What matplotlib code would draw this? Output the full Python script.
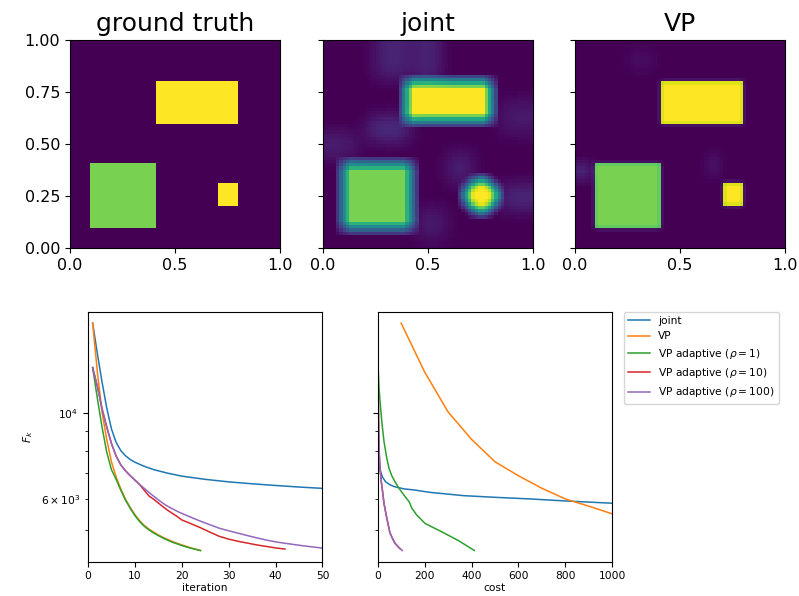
import matplotlib
matplotlib.use("Agg")
import matplotlib.pyplot as plt
import numpy as np

# ---------------------------------------------------------------------------
# image panels: piecewise-constant phantoms (x0, x1, y0, y1, value)
# ---------------------------------------------------------------------------
N_GRID = 64

GT_RECTS = [
    (0.10, 0.40, 0.10, 0.40, 0.80),
    (0.40, 0.80, 0.60, 0.80, 1.00),
    (0.70, 0.80, 0.20, 0.32, 1.00),
]

# joint reconstruction: blurred objects, round small one
JOINT_RECTS = [
    (0.10, 0.42, 0.10, 0.41, 0.80),
    (0.39, 0.80, 0.61, 0.80, 1.00),
]
JOINT_DISCS = [(0.75, 0.25, 0.075, 1.00)]
# faint background artefacts of the joint reconstruction
JOINT_ARTEFACTS = [
    (0.25, 0.42, 0.82, 1.00, 0.10),
    (0.45, 0.55, 0.80, 1.00, 0.12),
    (0.22, 0.40, 0.52, 0.62, 0.14),
    (0.00, 0.15, 0.44, 0.54, 0.09),
    (0.60, 0.70, 0.32, 0.45, 0.10),
    (0.85, 1.00, 0.18, 0.30, 0.12),
    (0.46, 0.58, 0.05, 0.18, 0.08),
    (0.85, 1.00, 0.55, 0.70, 0.07),
]

VP_RECTS = [
    (0.10, 0.40, 0.10, 0.40, 0.80),
    (0.40, 0.80, 0.60, 0.80, 1.00),
    (0.70, 0.80, 0.20, 0.32, 1.00),
]
VP_ARTEFACTS = [
    (0.00, 0.08, 0.33, 0.40, 0.10),
    (0.62, 0.68, 0.34, 0.45, 0.05),
    (0.25, 0.38, 0.84, 0.95, 0.03),
]

# ---------------------------------------------------------------------------
# convergence curves, iteration axis
# ---------------------------------------------------------------------------
IT_JOINT = [1, 2, 3, 4, 5, 6, 7, 8, 9, 10, 12, 14, 17, 20, 25, 30, 35, 40, 45, 50]
F_JOINT = [17000, 14200, 12000, 10300, 9100, 8400, 8000, 7760, 7590, 7470,
           7290, 7150, 7000, 6880, 6750, 6650, 6575, 6510, 6450, 6400]

IT_VP = list(range(1, 25))
F_VP = [17000, 12740, 10060, 8550, 7490, 6850, 6380, 6000, 5720, 5480,
        5290, 5140, 5030, 4940, 4860, 4790, 4730, 4675, 4625, 4580,
        4540, 4500, 4465, 4432]

IT_RHO1 = list(range(1, 25))
F_RHO1 = [13070, 10900, 9195, 7930, 7150, 6750, 6330, 5970, 5690, 5450,
          5260, 5115, 5005, 4915, 4840, 4770, 4710, 4655, 4610, 4565,
          4525, 4490, 4460, 4430]

IT_RHO10 = [1, 2, 3, 4, 5, 6, 7, 8, 9, 10, 11, 12, 13, 14, 15, 16, 17, 18,
            19, 20, 21, 22, 24, 26, 28, 30, 32, 34, 36, 38, 40, 42]
F_RHO10 = [13070, 11700, 10250, 9200, 8350, 7750, 7350, 7100, 6900, 6720,
           6550, 6330, 6120, 6000, 5870, 5740, 5620, 5520, 5420, 5310,
           5250, 5190, 5070, 4940, 4820, 4740, 4680, 4630, 4580, 4540,
           4500, 4470]

IT_RHO100 = [1, 2, 3, 4, 5, 6, 7, 8, 9, 10, 11, 12, 13, 14, 15, 16, 17, 18,
             19, 20, 22, 24, 26, 28, 30, 32, 34, 36, 38, 40, 42, 44, 46, 48, 50]
F_RHO100 = [13070, 11700, 10250, 9200, 8350, 7750, 7350, 7100, 6900, 6720,
            6550, 6400, 6250, 6110, 5980, 5860, 5755, 5670, 5590, 5520,
            5390, 5270, 5160, 5055, 4980, 4910, 4840, 4775, 4715, 4665,
            4625, 4590, 4555, 4525, 4496]

# ---------------------------------------------------------------------------
# convergence curves, cost axis
# ---------------------------------------------------------------------------
COST_JOINT = [0.5, 1, 1.5, 2, 3, 5, 8, 12.6, 20, 34, 50, 69, 112, 155, 223,
              365, 500, 649, 800, 1000]
FC_JOINT = [17000, 13500, 11000, 9500, 8300, 7640, 7300, 7060, 6850, 6650,
            6550, 6470, 6380, 6340, 6250, 6130, 6070, 6012, 5940, 5861]

COST_VP = [100, 200, 300, 400, 500, 600, 700, 800, 900, 1000, 1100]
FC_VP = [17000, 12740, 10060, 8550, 7490, 6895, 6402, 6012, 5760, 5504, 5290]

COST_RHO1 = [2, 6, 12.6, 20, 27, 38, 48, 60, 74, 91, 112, 135, 145, 166,
             202, 273, 344, 412]
FC_RHO1 = [13070, 11500, 10260, 9200, 8430, 7700, 7210, 6900, 6650, 6400,
           6150, 5900, 5700, 5470, 5200, 4950, 4700, 4432]

COST_RHO10 = [1.5, 3, 5.5, 10, 15.5, 22, 27, 38, 52, 63, 74, 90, 97]
FC_RHO10 = [13070, 10500, 8107, 7200, 6650, 6200, 5850, 5400, 4925, 4760,
            4625, 4510, 4470]

COST_RHO100 = [1.5, 3, 5.5, 10, 15.5, 22, 27, 38, 52, 63, 74, 90, 105]
FC_RHO100 = [13070, 10500, 8107, 7200, 6650, 6200, 5850, 5400, 4925, 4760,
             4625, 4510, 4432]

LABELS = ["joint", "VP", r"VP adaptive ($\rho=1$)",
          r"VP adaptive ($\rho=10$)", r"VP adaptive ($\rho=100$)"]

SMALL = 7.7


def _phantom(rects, discs=()):
    c = (np.arange(N_GRID) + 0.5) / N_GRID
    xx, yy = np.meshgrid(c, c)
    img = np.zeros((N_GRID, N_GRID))
    for x0, x1, y0, y1, val in rects:
        mask = (xx >= x0) & (xx <= x1) & (yy >= y0) & (yy <= y1)
        img[mask] = np.maximum(img[mask], val)
    for cx, cy, r, val in discs:
        mask = (xx - cx) ** 2 + (yy - cy) ** 2 <= r ** 2
        img[mask] = np.maximum(img[mask], val)
    return img


def _box_blur(img, r):
    k = np.ones(2 * r + 1) / (2 * r + 1)
    pad = np.pad(img, r, mode="edge")
    out = np.apply_along_axis(lambda v: np.convolve(v, k, mode="valid"), 0, pad)
    out = np.apply_along_axis(lambda v: np.convolve(v, k, mode="valid"), 1, out)
    return out


gt = _phantom(GT_RECTS)
joint = (_box_blur(_phantom(JOINT_RECTS, JOINT_DISCS), 2)
         + _box_blur(_box_blur(_phantom(JOINT_ARTEFACTS), 3), 2))
vp = _phantom(VP_RECTS)
vp = (0.85 * vp + 0.15 * _box_blur(vp, 1)
      + _box_blur(_phantom(VP_ARTEFACTS), 2))

fig = plt.figure(figsize=(7.99, 5.96), dpi=100)

top_pos = [0.0876, 0.4039, 0.7196]
for i, (img, title) in enumerate(zip([gt, joint, vp], ["ground truth", "joint", "VP"])):
    ax = fig.add_axes([top_pos[i], 0.5834, 0.2630, 0.3502])
    ax.imshow(img, origin="lower", extent=[0, 1, 0, 1], cmap="viridis",
              vmin=0, vmax=1, interpolation="nearest", aspect="auto")
    ax.set_title(title, fontsize=18)
    ax.set_xticks([0, 0.5, 1.0])
    ax.set_yticks([0, 0.25, 0.5, 0.75, 1.0])
    ax.tick_params(labelsize=11.5)
    if i > 0:
        ax.set_yticklabels([])

ax_it = fig.add_axes([0.1101, 0.0575, 0.2935, 0.4195])
ax_c = fig.add_axes([0.4727, 0.0575, 0.2936, 0.4195], sharey=ax_it)

for x, y, lab in zip([IT_JOINT, IT_VP, IT_RHO1, IT_RHO10, IT_RHO100],
                     [F_JOINT, F_VP, F_RHO1, F_RHO10, F_RHO100], LABELS):
    ax_it.plot(x, y, linewidth=1.1, label=lab)
for x, y, lab in zip([COST_JOINT, COST_VP, COST_RHO1, COST_RHO10, COST_RHO100],
                     [FC_JOINT, FC_VP, FC_RHO1, FC_RHO10, FC_RHO100], LABELS):
    ax_c.plot(x, y, linewidth=1.1, label=lab)

ax_it.set_yscale("log")
ax_it.set_xlim(0, 50)
ax_c.set_xlim(0, 1000)
ax_it.set_ylim(4147, 18190)
ax_it.set_xlabel("iteration", fontsize=SMALL, labelpad=1)
ax_c.set_xlabel("cost", fontsize=SMALL, labelpad=1)
ax_it.set_ylabel(r"$F_k$", fontsize=SMALL)
for ax in (ax_it, ax_c):
    ax.tick_params(which="both", labelsize=SMALL)
plt.setp(ax_c.get_yticklabels(which="both"), visible=False)

ax_c.legend(loc="upper left", bbox_to_anchor=(1.05, 1.0), borderaxespad=0,
            fontsize=SMALL)

fig.savefig("out.png", dpi=100, facecolor="white")
